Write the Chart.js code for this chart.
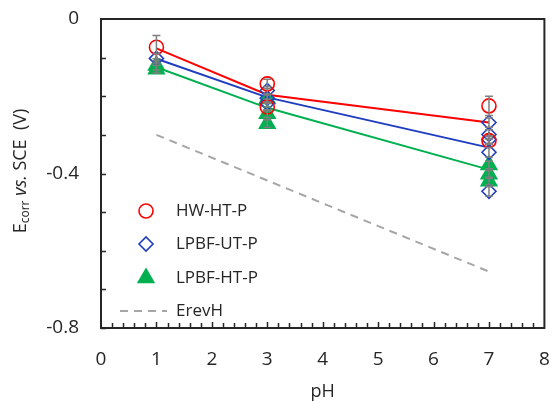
<!DOCTYPE html>
<html lang="en">
<head>
    <meta charset="UTF-8">
    <title>Ecorr vs pH</title>
    <script src="https://cdn.jsdelivr.net/npm/chart.js"></script>
    <style>
        body { margin: 0; background: #fff; }
        #wrap { width: 555px; height: 402px; }
    </style>
</head>
<body>
    <div id="wrap"><canvas id="chart" width="555" height="402"></canvas></div>
    <script>
        // data
        const seriesNames = ['HW-HT-P', 'LPBF-UT-P', 'LPBF-HT-P'];
        const phCats = [1, 3, 7];

        const hwPh = [1, 3, 3, 7, 7];
        const hwE = [-0.073, -0.168, -0.228, -0.225, -0.315];
        const hwErr = [0.03, 0.012, 0.01, 0.025, 0.01];

        const utPh = [1, 3, 3, 3, 7, 7, 7, 7, 7];
        const utE = [-0.102, -0.185, -0.205, -0.218, -0.268, -0.299, -0.312, -0.345, -0.446];
        const utErr = [0.012, 0.01, 0.01, 0.01, 0.012, 0.012, 0.01, 0.012, 0.012];

        const htPh = [1, 1, 3, 3, 3, 7, 7, 7];
        const htE = [-0.12, -0.13, -0.207, -0.245, -0.271, -0.378, -0.402, -0.42];
        const htErr = [0.012, 0.01, 0.01, 0.01, 0.01, 0.01, 0.01, 0.01];

        const hwMean = [-0.076, -0.196, -0.268];
        const utMean = [-0.103, -0.203, -0.333];
        const htMean = [-0.125, -0.23, -0.39];

        const erevPh = [1, 7];
        const erevE = [-0.300, -0.654];

        const yLabels = [0, -0.4, -0.8];

        const RED = '#ff0000', BLUE = '#1f3ebf', GREEN = '#00b050', GREY = '#a6a6a6';
        const FONT = '"Open Sans", sans-serif';

        function pts(xs, ys) {
            return xs.map((x, i) => ({ x: x, y: ys[i] }));
        }

        function lineSet(ys, color) {
            return {
                type: 'line', data: pts(phCats, ys), borderColor: color, borderWidth: 2,
                pointRadius: 0, fill: false, order: 10
            };
        }

        function markerSet(label, xs, ys, errs, style, color, fillColor, r) {
            return {
                type: 'scatter', label: label, data: pts(xs, ys), errs: errs,
                pointStyle: style, pointRadius: r, pointBorderWidth: 1.6,
                borderColor: color, backgroundColor: fillColor, order: 1
            };
        }

        const datasets = [
            lineSet(hwMean, RED),
            lineSet(utMean, BLUE),
            lineSet(htMean, GREEN),
            {
                type: 'line', label: 'ErevH', data: pts(erevPh, erevE), borderColor: GREY,
                borderWidth: 2, borderDash: [8, 6], pointRadius: 0, fill: false, order: 11
            },
            markerSet(seriesNames[0], hwPh, hwE, hwErr, 'circle', RED, 'rgba(255,255,255,0)', 7),
            markerSet(seriesNames[1], utPh, utE, utErr, 'rectRot', BLUE, 'rgba(255,255,255,0)', 7),
            markerSet(seriesNames[2], htPh, htE, htErr, 'triangle', GREEN, GREEN, 9)
        ];

        // error bars, inner ticks, frame, legend and axis titles
        const decor = {
            id: 'decor',
            afterDatasetsDraw(chart) {
                const c = chart.ctx, xs = chart.scales.x, ys = chart.scales.y;
                c.save();
                c.strokeStyle = '#7f7f7f';
                c.lineWidth = 1.5;
                chart.data.datasets.forEach(ds => {
                    if (!ds.errs) return;
                    ds.data.forEach((p, i) => {
                        const px = xs.getPixelForValue(p.x);
                        const top = ys.getPixelForValue(p.y + ds.errs[i]);
                        const bot = ys.getPixelForValue(p.y - ds.errs[i]);
                        c.beginPath();
                        c.moveTo(px, top); c.lineTo(px, bot);
                        c.moveTo(px - 4, top); c.lineTo(px + 4, top);
                        c.moveTo(px - 4, bot); c.lineTo(px + 4, bot);
                        c.stroke();
                    });
                });
                c.restore();
            },
            afterDraw(chart) {
                const c = chart.ctx, a = chart.chartArea, xs = chart.scales.x, ys = chart.scales.y;
                c.save();
                c.strokeStyle = '#262626';
                c.lineWidth = 1.5;
                c.beginPath();
                for (let v = 0.2; v < 8; v += 0.2) {
                    const px = Math.round(xs.getPixelForValue(v)) + 0.5;
                    const major = Math.abs(v - Math.round(v)) < 1e-6;
                    c.moveTo(px, a.bottom); c.lineTo(px, a.bottom - (major ? 6 : 5));
                }
                for (let v = -0.1; v > -0.8; v -= 0.1) {
                    const py = Math.round(ys.getPixelForValue(v)) + 0.5;
                    c.moveTo(a.left, py); c.lineTo(a.left + 5, py);
                }
                c.stroke();
                c.lineWidth = 2;
                c.strokeRect(a.left, a.top, a.right - a.left, a.bottom - a.top);

                // legend
                const lx = 146, tx = 176;
                const rows = [211, 244, 278];
                c.font = '17px ' + FONT;
                c.textBaseline = 'middle';
                const markers = chart.data.datasets.filter(d => d.errs);
                markers.forEach((ds, i) => {
                    c.strokeStyle = ds.borderColor;
                    c.fillStyle = ds.backgroundColor;
                    c.lineWidth = ds.pointBorderWidth;
                    Chart.helpers.drawPoint(c, {
                        pointStyle: ds.pointStyle, radius: ds.pointRadius, borderWidth: ds.pointBorderWidth
                    }, lx, rows[i]);
                    c.fillStyle = '#262626';
                    c.fillText(ds.label, tx, rows[i]);
                });
                c.strokeStyle = GREY;
                c.lineWidth = 2;
                c.setLineDash([8, 6]);
                c.beginPath();
                c.moveTo(120, 311); c.lineTo(167, 311);
                c.stroke();
                c.setLineDash([]);
                c.fillStyle = '#262626';
                c.fillText('ErevH', tx, 311);

                // x title
                c.textAlign = 'center';
                c.font = '18px ' + FONT;
                c.fillText('pH', (a.left + a.right) / 2, 392);

                // y title with subscript and italics
                const parts = [
                    { t: 'E', f: '18px ' + FONT, dy: 0 },
                    { t: 'corr', f: '12px ' + FONT, dy: 5 },
                    { t: ' vs.', f: 'italic 18px ' + FONT, dy: 0 },
                    { t: ' SCE  (V)', f: '18px ' + FONT, dy: 0 }
                ];
                let w = 0;
                parts.forEach(p => { c.font = p.f; p.w = c.measureText(p.t).width; w += p.w; });
                c.translate(21, 171);
                c.rotate(-Math.PI / 2);
                c.textAlign = 'left';
                let x0 = -w / 2;
                parts.forEach(p => {
                    c.font = p.f;
                    c.fillText(p.t, x0, p.dy);
                    x0 += p.w;
                });
                c.restore();
            }
        };

        new Chart(document.getElementById('chart'), {
            data: { datasets: datasets },
            options: {
                responsive: false,
                animation: false,
                layout: { padding: { left: 0, top: 19, right: 8, bottom: 0 } },
                plugins: { legend: { display: false }, tooltip: { enabled: false } },
                scales: {
                    x: {
                        type: 'linear', min: 0, max: 8,
                        grid: { display: false, drawTicks: false },
                        border: { display: false },
                        ticks: { stepSize: 1, padding: 20, color: '#262626', font: { family: FONT, size: 19 } },
                        afterFit(s) { s.height = 74; s.paddingLeft = 0; s.paddingRight = 0; }
                    },
                    y: {
                        type: 'linear', min: -0.8, max: 0,
                        grid: { display: false, drawTicks: false },
                        border: { display: false },
                        ticks: {
                            stepSize: 0.4, padding: 22, color: '#262626', font: { family: FONT, size: 19 },
                            callback: v => yLabels.includes(Math.round(v * 10) / 10) ? (Math.abs(v) < 1e-9 ? '0' : String(Math.round(v * 10) / 10)) : ''
                        },
                        afterFit(s) { s.width = 101; s.paddingTop = 0; s.paddingBottom = 0; }
                    }
                }
            },
            plugins: [decor]
        });
    </script>
</body>
</html>
